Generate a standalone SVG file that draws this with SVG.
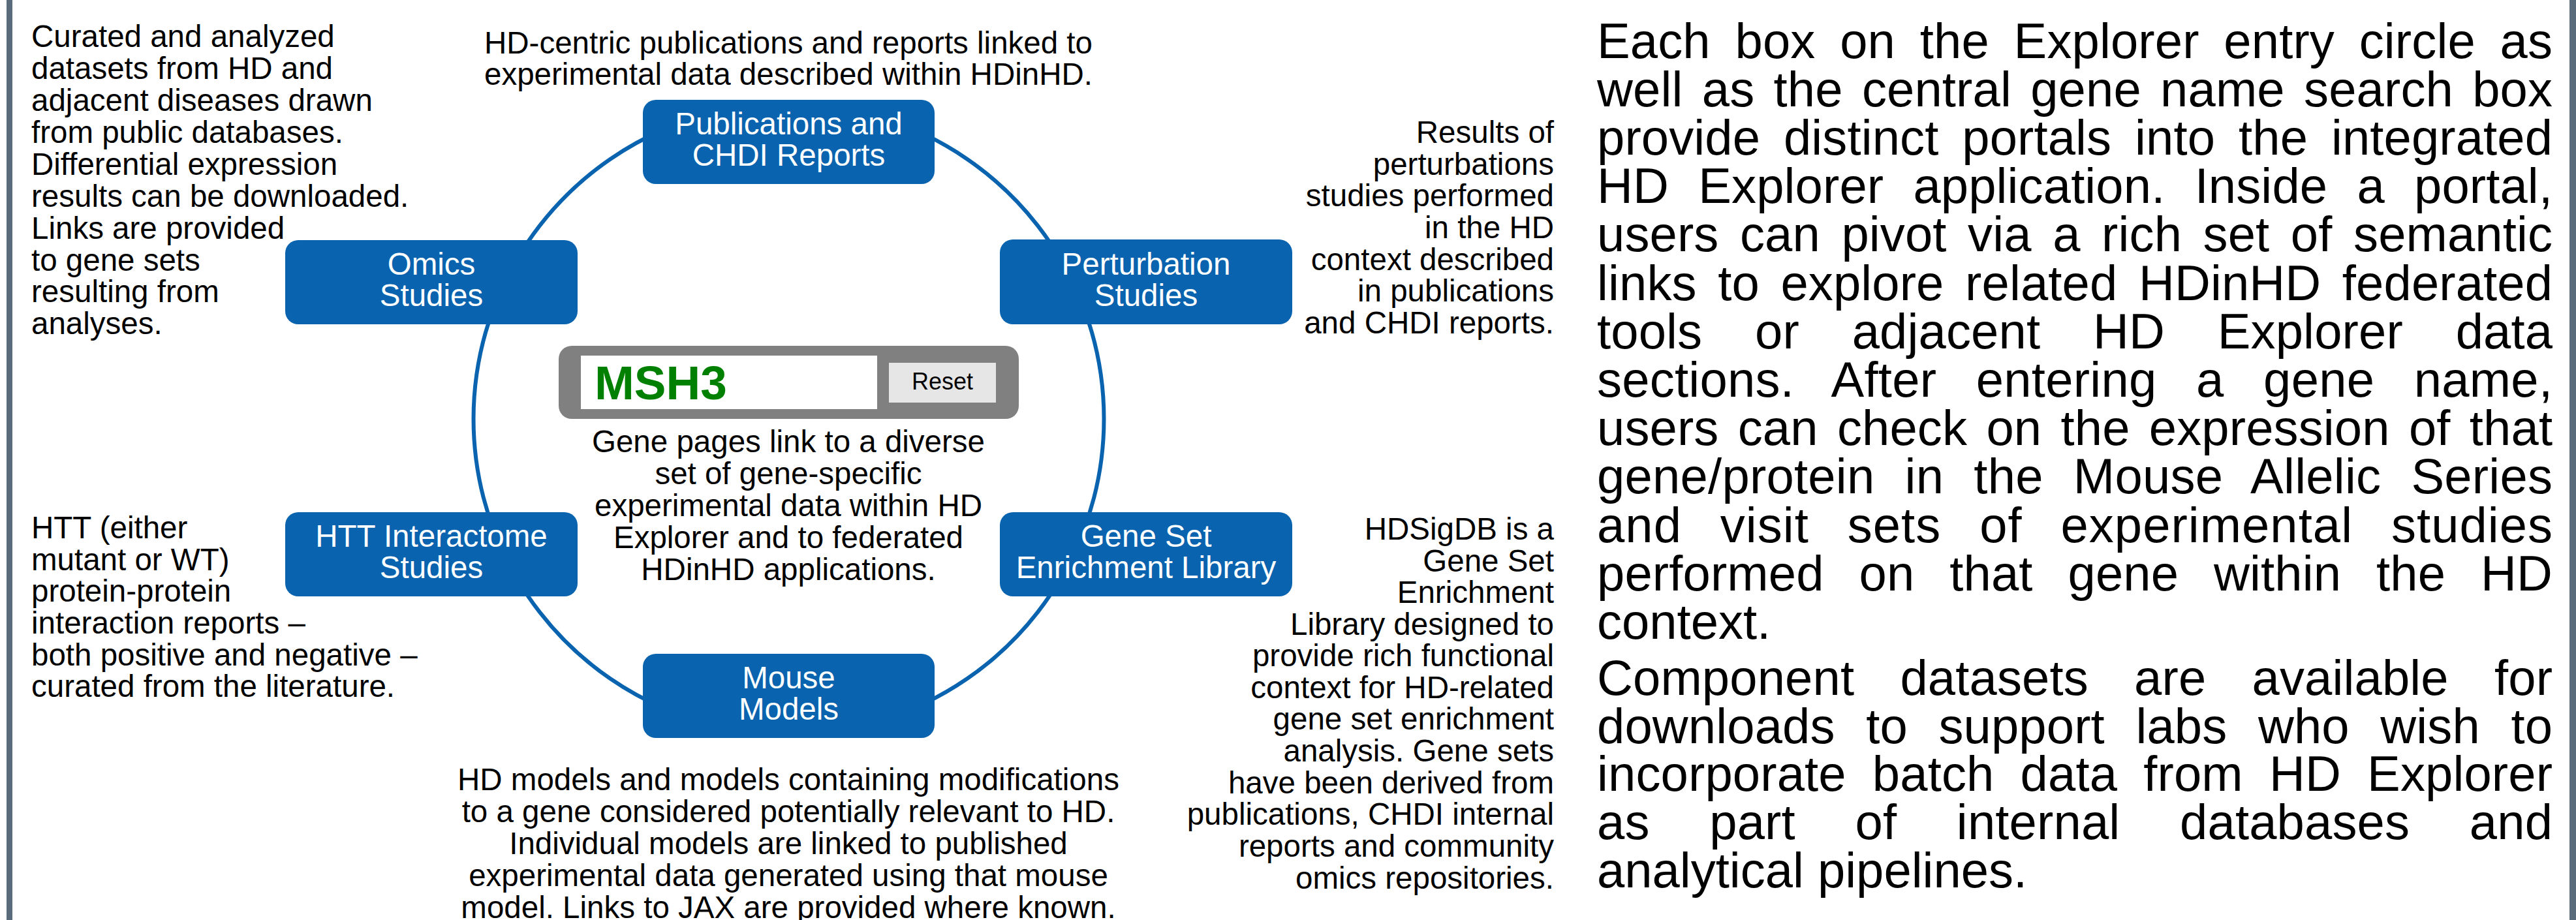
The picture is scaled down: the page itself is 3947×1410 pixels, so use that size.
<svg xmlns="http://www.w3.org/2000/svg" width="3947" height="1410" viewBox="0 0 3947 1410">
<style>
text{font-family:"Liberation Sans",Arial,sans-serif;fill:#000}
.d{font-size:47.5px}
.b{font-size:47.5px;fill:#fff;text-anchor:middle}
.c{text-anchor:middle}
.r{text-anchor:end}
.p{font-size:76px}
.box{fill:#0a63ae}
.arc{fill:none;stroke:#0a63ae;stroke-width:6}
</style>
<rect x="0" y="0" width="3947" height="1410" fill="#fff"/>
<rect x="10" y="0" width="9" height="1410" fill="#5a6b7c"/>
<rect x="3937" y="0" width="10" height="1410" fill="#5a6b7c"/>

<g id="connectors">
<path class="arc" d="M1208.5 159 A483 483 0 0 1 1659.4 468.9"/>
<path class="arc" d="M1659.4 468.9 A483 483 0 0 1 1659.4 815.1"/>
<path class="arc" d="M1659.4 815.1 A483 483 0 0 1 1208.5 1125"/>
<path class="arc" d="M1208.5 1125 A483 483 0 0 1 757.6 815.1"/>
<path class="arc" d="M757.6 815.1 A483 483 0 0 1 757.6 468.9"/>
<path class="arc" d="M757.6 468.9 A483 483 0 0 1 1208.5 159"/>
</g>

<g id="publications">
<rect class="box" x="985" y="153" width="447" height="129" rx="20"/>
<text class="b" x="1208.5" y="206">Publications and</text>
<text class="b" x="1208.5" y="254">CHDI Reports</text>
</g>
<g id="omics">
<rect class="box" x="437" y="368" width="448" height="129" rx="20"/>
<text class="b" x="661" y="421">Omics</text>
<text class="b" x="661" y="469">Studies</text>
</g>
<g id="perturbation">
<rect class="box" x="1532" y="367" width="448" height="130" rx="20"/>
<text class="b" x="1756" y="420.5">Perturbation</text>
<text class="b" x="1756" y="468.5">Studies</text>
</g>
<g id="htt">
<rect class="box" x="437" y="785" width="448" height="129" rx="20"/>
<text class="b" x="661" y="838">HTT Interactome</text>
<text class="b" x="661" y="886">Studies</text>
</g>
<g id="geneset">
<rect class="box" x="1532" y="785" width="448" height="129" rx="20"/>
<text class="b" x="1756" y="838">Gene Set</text>
<text class="b" x="1756" y="886">Enrichment Library</text>
</g>
<g id="mouse">
<rect class="box" x="985" y="1002" width="447" height="129" rx="20"/>
<text class="b" x="1208.5" y="1055">Mouse</text>
<text class="b" x="1208.5" y="1103">Models</text>
</g>

<g id="search">
<rect x="856" y="530" width="705" height="112" rx="20" fill="#808080"/>
<rect x="890" y="545" width="454" height="82" fill="#fff"/>
<text x="911" y="612" style="font-size:73px;font-weight:bold;fill:#008000">MSH3</text>
<rect x="1362" y="556" width="164" height="61" fill="#e6e6e6"/>
<text class="c" x="1444" y="597" style="font-size:36px">Reset</text>
</g>

<g id="desc-omics" class="d">
<text x="48" y="72">Curated and analyzed</text>
<text x="48" y="121">datasets from HD and</text>
<text x="48" y="170">adjacent diseases drawn</text>
<text x="48" y="218.5">from public databases.</text>
<text x="48" y="267.5">Differential expression</text>
<text x="48" y="316.5">results can be downloaded.</text>
<text x="48" y="365.5">Links are provided</text>
<text x="48" y="414.5">to gene sets</text>
<text x="48" y="463">resulting from</text>
<text x="48" y="512">analyses.</text>
</g>

<g id="desc-pub" class="d">
<text class="c" x="1208" y="81.5">HD-centric publications and reports linked to</text>
<text class="c" x="1208" y="130">experimental data described within HDinHD.</text>
</g>

<g id="desc-pert" class="d">
<text class="r" x="2381" y="219">Results of</text>
<text class="r" x="2381" y="267.5">perturbations</text>
<text class="r" x="2381" y="316">studies performed</text>
<text class="r" x="2381" y="364.5">in the HD</text>
<text class="r" x="2381" y="413.5">context described</text>
<text class="r" x="2381" y="462">in publications</text>
<text class="r" x="2381" y="511">and CHDI reports.</text>
</g>

<g id="desc-gene" class="d">
<text class="c" x="1208" y="693">Gene pages link to a diverse</text>
<text class="c" x="1208" y="742">set of gene-specific</text>
<text class="c" x="1208" y="791">experimental data within HD</text>
<text class="c" x="1208" y="840">Explorer and to federated</text>
<text class="c" x="1208" y="889">HDinHD applications.</text>
</g>

<g id="desc-htt" class="d">
<text x="48" y="824.5">HTT (either</text>
<text x="48" y="873.5">mutant or WT)</text>
<text x="48" y="922">protein-protein</text>
<text x="48" y="971">interaction reports –</text>
<text x="48" y="1019.5">both positive and negative –</text>
<text x="48" y="1068">curated from the literature.</text>
</g>

<g id="desc-gsel" class="d">
<text class="r" x="2381" y="827">HDSigDB is a</text>
<text class="r" x="2381" y="875.5">Gene Set</text>
<text class="r" x="2381" y="924">Enrichment</text>
<text class="r" x="2381" y="972.5">Library designed to</text>
<text class="r" x="2381" y="1021">provide rich functional</text>
<text class="r" x="2381" y="1069.5">context for HD-related</text>
<text class="r" x="2381" y="1118">gene set enrichment</text>
<text class="r" x="2381" y="1166.5">analysis. Gene sets</text>
<text class="r" x="2381" y="1215.5">have been derived from</text>
<text class="r" x="2381" y="1264">publications, CHDI internal</text>
<text class="r" x="2381" y="1313">reports and community</text>
<text class="r" x="2381" y="1362">omics repositories.</text>
</g>

<g id="desc-mouse" class="d">
<text class="c" x="1208" y="1210.5">HD models and models containing modifications</text>
<text class="c" x="1208" y="1259.5">to a gene considered potentially relevant to HD.</text>
<text class="c" x="1208" y="1308.5">Individual models are linked to published</text>
<text class="c" x="1208" y="1357.5">experimental data generated using that mouse</text>
<text class="c" x="1208" y="1406.5">model. Links to JAX are provided where known.</text>
</g>

<g id="explanation" class="p">
<text x="2447" y="88.5" word-spacing="16.5" textLength="1464" lengthAdjust="spacing">Each box on the Explorer entry circle as</text>
<text x="2447" y="162.7" word-spacing="8.1" textLength="1464" lengthAdjust="spacing">well as the central gene name search box</text>
<text x="2447" y="236.9" word-spacing="14.7" textLength="1464" lengthAdjust="spacing">provide distinct portals into the integrated</text>
<text x="2447" y="311.1" word-spacing="24" textLength="1464" lengthAdjust="spacing">HD Explorer application. Inside a portal,</text>
<text x="2447" y="385.3" word-spacing="11.3" textLength="1464" lengthAdjust="spacing">users can pivot via a rich set of semantic</text>
<text x="2447" y="459.5" word-spacing="11.35" textLength="1464" lengthAdjust="spacing">links to explore related HDinHD federated</text>
<text x="2447" y="533.7" word-spacing="59.5" textLength="1464" lengthAdjust="spacing">tools or adjacent HD Explorer data</text>
<text x="2447" y="607.9" word-spacing="39.2" textLength="1464" lengthAdjust="spacing">sections. After entering a gene name,</text>
<text x="2447" y="682.1" word-spacing="8.1" textLength="1464" lengthAdjust="spacing">users can check on the expression of that</text>
<text x="2447" y="756.3" word-spacing="24.8" textLength="1464" lengthAdjust="spacing">gene/protein in the Mouse Allelic Series</text>
<text x="2447" y="830.5" word-spacing="36.7" textLength="1464" lengthAdjust="spacing">and visit sets of experimental studies</text>
<text x="2447" y="904.7" word-spacing="32.7" textLength="1464" lengthAdjust="spacing">performed on that gene within the HD</text>
<text x="2447" y="978.9">context.</text>
<text x="2447" y="1065" word-spacing="49" textLength="1464" lengthAdjust="spacing">Component datasets are available for</text>
<text x="2447" y="1138.7" word-spacing="26.3" textLength="1464" lengthAdjust="spacing">downloads to support labs who wish to</text>
<text x="2447" y="1212.4" word-spacing="18.9" textLength="1464" lengthAdjust="spacing">incorporate batch data from HD Explorer</text>
<text x="2447" y="1286.1" word-spacing="70.4" textLength="1464" lengthAdjust="spacing">as part of internal databases and</text>
<text x="2447" y="1359.8">analytical pipelines.</text>
</g>
</svg>
